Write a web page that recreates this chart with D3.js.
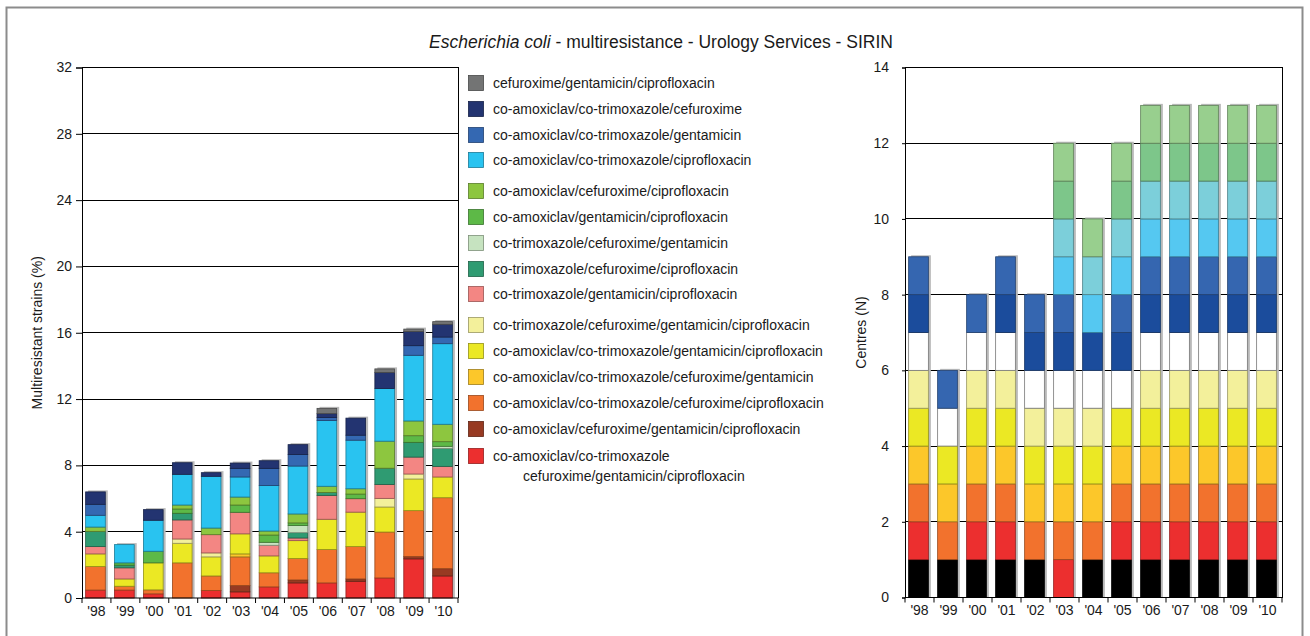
<!DOCTYPE html>
<html>
<head>
<meta charset="utf-8">
<script src="https://cdn.jsdelivr.net/npm/d3@7"></script>
<style>
  body { margin: 0; background: #fff; }
  text { font-family: "Liberation Sans", Arial, sans-serif; fill: #1a1a1a; }
</style>
</head>
<body>
<svg id="chart" width="1310" height="636"></svg>
<script>
// ---------- DATA ----------
const years = ["'98","'99","'00","'01","'02","'03","'04","'05","'06","'07","'08","'09","'10"];

// Left chart: multiresistant strains (%) per combination (stack order bottom -> top)
const amcSxtCxmGenCip = [0.48,0.48,0.25,0.00,0.45,0.37,0.67,0.91,0.91,1.01,1.21,2.36,1.33];
const amcCxmGenCip    = [0.00,0.00,0.00,0.00,0.00,0.38,0.00,0.18,0.00,0.14,0.00,0.14,0.44];
const amcSxtCxmCip    = [1.42,0.23,0.24,2.12,0.88,1.73,0.85,1.29,2.01,1.95,2.77,2.77,4.28];
const amcSxtCxmGen    = [0.00,0.00,0.00,0.00,0.00,0.18,0.00,0.00,0.00,0.00,0.00,0.00,0.00];
const amcSxtGenCip    = [0.76,0.44,1.63,1.18,1.15,1.21,1.02,1.08,1.83,2.08,1.51,1.91,1.25];
const sxtCxmGenCip    = [0.00,0.00,0.00,0.26,0.24,0.00,0.00,0.00,0.00,0.00,0.52,0.30,0.00];
const sxtGenCip       = [0.44,0.67,0.00,1.15,1.10,1.30,0.64,0.16,1.44,0.81,0.84,1.02,0.64];
const sxtCxmCip       = [0.92,0.16,0.00,0.40,0.00,0.00,0.00,0.32,0.18,0.00,0.98,0.89,1.08];
const sxtCxmGen       = [0.00,0.00,0.00,0.00,0.00,0.00,0.18,0.43,0.00,0.00,0.00,0.00,0.13];
const amcGenCip       = [0.00,0.14,0.70,0.26,0.00,0.44,0.44,0.16,0.00,0.28,0.00,0.40,0.28];
const amcCxmCip       = [0.26,0.00,0.00,0.24,0.40,0.48,0.24,0.54,0.37,0.32,1.63,0.89,1.05];
const amcSxtCip       = [0.71,1.10,1.87,1.85,3.12,1.21,2.75,2.89,3.97,2.93,3.18,3.96,4.86];
const amcSxtGen       = [0.66,0.00,0.00,0.00,0.00,0.52,1.03,0.70,0.18,0.30,0.00,0.58,0.40];
const amcSxtCxm       = [0.75,0.00,0.64,0.70,0.22,0.32,0.46,0.59,0.23,1.03,0.96,0.85,0.77];
const cxmGenCip       = [0.00,0.00,0.00,0.00,0.00,0.00,0.00,0.00,0.32,0.00,0.22,0.15,0.16];

const resistLabels = [
  "co-amoxiclav/co-trimoxazole\ncefuroxime/gentamicin/ciprofloxacin",
  "co-amoxiclav/cefuroxime/gentamicin/ciprofloxacin",
  "co-amoxiclav/co-trimoxazole/cefuroxime/ciprofloxacin",
  "co-amoxiclav/co-trimoxazole/cefuroxime/gentamicin",
  "co-amoxiclav/co-trimoxazole/gentamicin/ciprofloxacin",
  "co-trimoxazole/cefuroxime/gentamicin/ciprofloxacin",
  "co-trimoxazole/gentamicin/ciprofloxacin",
  "co-trimoxazole/cefuroxime/ciprofloxacin",
  "co-trimoxazole/cefuroxime/gentamicin",
  "co-amoxiclav/gentamicin/ciprofloxacin",
  "co-amoxiclav/cefuroxime/ciprofloxacin",
  "co-amoxiclav/co-trimoxazole/ciprofloxacin",
  "co-amoxiclav/co-trimoxazole/gentamicin",
  "co-amoxiclav/co-trimoxazole/cefuroxime",
  "cefuroxime/gentamicin/ciprofloxacin"
];
const resistValues = [amcSxtCxmGenCip, amcCxmGenCip, amcSxtCxmCip, amcSxtCxmGen, amcSxtGenCip,
  sxtCxmGenCip, sxtGenCip, sxtCxmCip, sxtCxmGen, amcGenCip, amcCxmCip, amcSxtCip, amcSxtGen, amcSxtCxm, cxmGenCip];
const resistColors = ["#ec2f2f","#973a22","#f2722d","#fcc72a","#ebe824","#f3f09b","#f38683","#2f9b72",
  "#c6e3c0","#5db947","#8dc63f","#29c3f0","#3468b2","#233471","#737474"];

const leftTicks = [0,4,8,12,16,20,24,28,32];

// Right chart: centres (N) — one layer per centre, 1 = reporting
const centre01 = [1,1,1,1,1,0,1,1,1,1,1,1,1];
const centre02 = [1,0,1,1,0,1,0,1,1,1,1,1,1];
const centre03 = [1,1,1,1,1,1,1,1,1,1,1,1,1];
const centre04 = [1,1,1,1,1,1,1,1,1,1,1,1,1];
const centre05 = [1,1,1,1,1,1,1,1,1,1,1,1,1];
const centre06 = [1,0,1,1,1,1,1,0,1,1,1,1,1];
const centre07 = [1,1,1,1,1,1,1,1,1,1,1,1,1];
const centre08 = [1,0,0,1,1,1,1,1,1,1,1,1,1];
const centre09 = [1,1,1,1,1,1,0,1,1,1,1,1,1];
const centre10 = [0,0,0,0,0,1,1,1,1,1,1,1,1];
const centre11 = [0,0,0,0,0,1,1,1,1,1,1,1,1];
const centre12 = [0,0,0,0,0,1,0,1,1,1,1,1,1];
const centre13 = [0,0,0,0,0,1,1,1,1,1,1,1,1];
const centreValues = [centre01,centre02,centre03,centre04,centre05,centre06,centre07,centre08,centre09,centre10,centre11,centre12,centre13];
const centreColors = ["#000000","#ec2f2f","#f2722d","#fcc72a","#ebe824","#f3f09b","#ffffff","#1b4c9c",
  "#3566b0","#55c8f1","#7ccfda","#7dc68a","#98cf8e"];
const rightTicks = [0,2,4,6,8,10,12,14];

// ---------- DRAW ----------
const svg = d3.select("#chart");

// outer frame
svg.append("rect").attr("x",6.5).attr("y",7.5).attr("width",1296).attr("height",660)
  .attr("fill","none").attr("stroke","#8c8c8c").attr("stroke-width",2);

// title
const title = svg.append("text").attr("x",661).attr("y",48).attr("text-anchor","middle")
  .style("font-size","17.5px");
title.append("tspan").style("font-style","italic").text("Escherichia coli");
title.append("tspan").text(" - multiresistance - Urology Services - SIRIN");

function stackedChart(opts) {
  const {left, right, top, bottom, domainMax, ticks, values, colors, tickSize, tickPad, yLabel, yLabelX} = opts;
  const g = svg.append("g");
  const x = d3.scaleBand().domain(years).range([left, right]).paddingInner(0.32).paddingOuter(0.16);
  const y = d3.scaleLinear().domain([0, domainMax]).range([bottom, top]);

  const table = years.map((yr, i) => {
    const row = {year: yr};
    values.forEach((arr, k) => row["s" + k] = arr[i]);
    return row;
  });
  const keys = values.map((_, k) => "s" + k);
  const stacked = d3.stack().keys(keys)(table);
  const totals = years.map((_, i) => d3.sum(values, arr => arr[i]));

  // gridlines
  g.selectAll(".grid").data(ticks.filter(t => t > 0 && t < domainMax)).join("line")
    .attr("x1", left).attr("x2", right)
    .attr("y1", d => y(d)).attr("y2", d => y(d))
    .attr("stroke", "#000").attr("stroke-width", 1).attr("shape-rendering","crispEdges");

  // frame top/right
  g.append("path").attr("d", `M${left},${y(domainMax)}H${right}V${bottom}`)
    .attr("fill","none").attr("stroke","#000").attr("stroke-width",1).attr("shape-rendering","crispEdges");

  const off = -1;
  // shadows
  g.selectAll(".shadow").data(years).join("rect")
    .attr("x", d => x(d) + off + 2.5)
    .attr("y", (d, i) => y(totals[i]) - 1.5)
    .attr("width", x.bandwidth())
    .attr("height", (d, i) => y(0) - y(totals[i]) + 1.5)
    .attr("fill", "#b9b9b9");

  // stacked bars
  g.selectAll(".layer").data(stacked).join("g")
    .attr("fill", (d, k) => colors[k])
    .attr("stroke", (d, k) => colors[k] === "#ffffff" ? "#777" : d3.color(colors[k]).darker(1.3))
    .selectAll("rect").data(d => d.filter(p => p[1] - p[0] > 0)).join("rect")
      .attr("x", d => x(d.data.year) + off)
      .attr("y", d => y(d[1]))
      .attr("width", x.bandwidth())
      .attr("height", d => y(d[0]) - y(d[1]))
      .attr("stroke-width", 0.8);

  // y axis
  const yAxis = g.append("g").attr("transform", `translate(${left},0)`)
    .call(d3.axisLeft(y).tickValues(ticks).tickFormat(d3.format("d")).tickSize(tickSize).tickPadding(tickPad));
  yAxis.select(".domain").attr("stroke","#000");
  yAxis.selectAll("line").attr("stroke","#000");
  yAxis.selectAll("text").style("font-size","14px").attr("fill","#1a1a1a");

  // x axis
  const xAxis = g.append("g").attr("transform", `translate(0,${bottom})`)
    .call(d3.axisBottom(x).tickSize(0).tickPadding(8));
  xAxis.select(".domain").attr("stroke","#000").attr("d", `M${left},0H${right}`);
  xAxis.selectAll("text").style("font-size","14px").attr("fill","#1a1a1a");
  // boundary ticks
  const edges = d3.range(years.length + 1).map(i => left + i * x.step());
  g.selectAll(".xt").data(edges).join("line")
    .attr("x1", d => d).attr("x2", d => d)
    .attr("y1", bottom).attr("y2", bottom + 5)
    .attr("stroke", "#000");

  // y label
  g.append("text").attr("transform", `translate(${yLabelX},${(top + bottom) / 2}) rotate(-90)`)
    .attr("text-anchor","middle").style("font-size","14px").text(yLabel);
}

stackedChart({left:82, right:458, top:67.5, bottom:598, domainMax:32, ticks:leftTicks,
  values:resistValues, colors:resistColors, tickSize:6, tickPad:4,
  yLabel:"Multiresistant strains (%)", yLabelX:42});

stackedChart({left:905, right:1282, top:67.5, bottom:597.5, domainMax:14, ticks:rightTicks,
  values:centreValues, colors:centreColors, tickSize:3, tickPad:13,
  yLabel:"Centres (N)", yLabelX:866});

// legend (top -> bottom is reverse stack order)
const legendOrder = d3.range(resistLabels.length).reverse();
const legendY = [83,109,135,160,191,217,243,269,294,325,351,377,403,429,456];
const lg = svg.append("g");
legendOrder.forEach((k, j) => {
  const cy = legendY[j];
  lg.append("rect").attr("x", 468.5).attr("y", cy - 7.5).attr("width", 15).attr("height", 15)
    .attr("fill", resistColors[k]).attr("stroke", d3.color(resistColors[k]).darker(1.3)).attr("stroke-width", 0.8);
  const lines = resistLabels[k].split("\n");
  lines.forEach((ln, li) => {
    lg.append("text").attr("x", li === 0 ? 493 : 523).attr("y", cy + 5 + li * 20)
      .style("font-size","14px").text(ln);
  });
});
</script>
</body>
</html>
